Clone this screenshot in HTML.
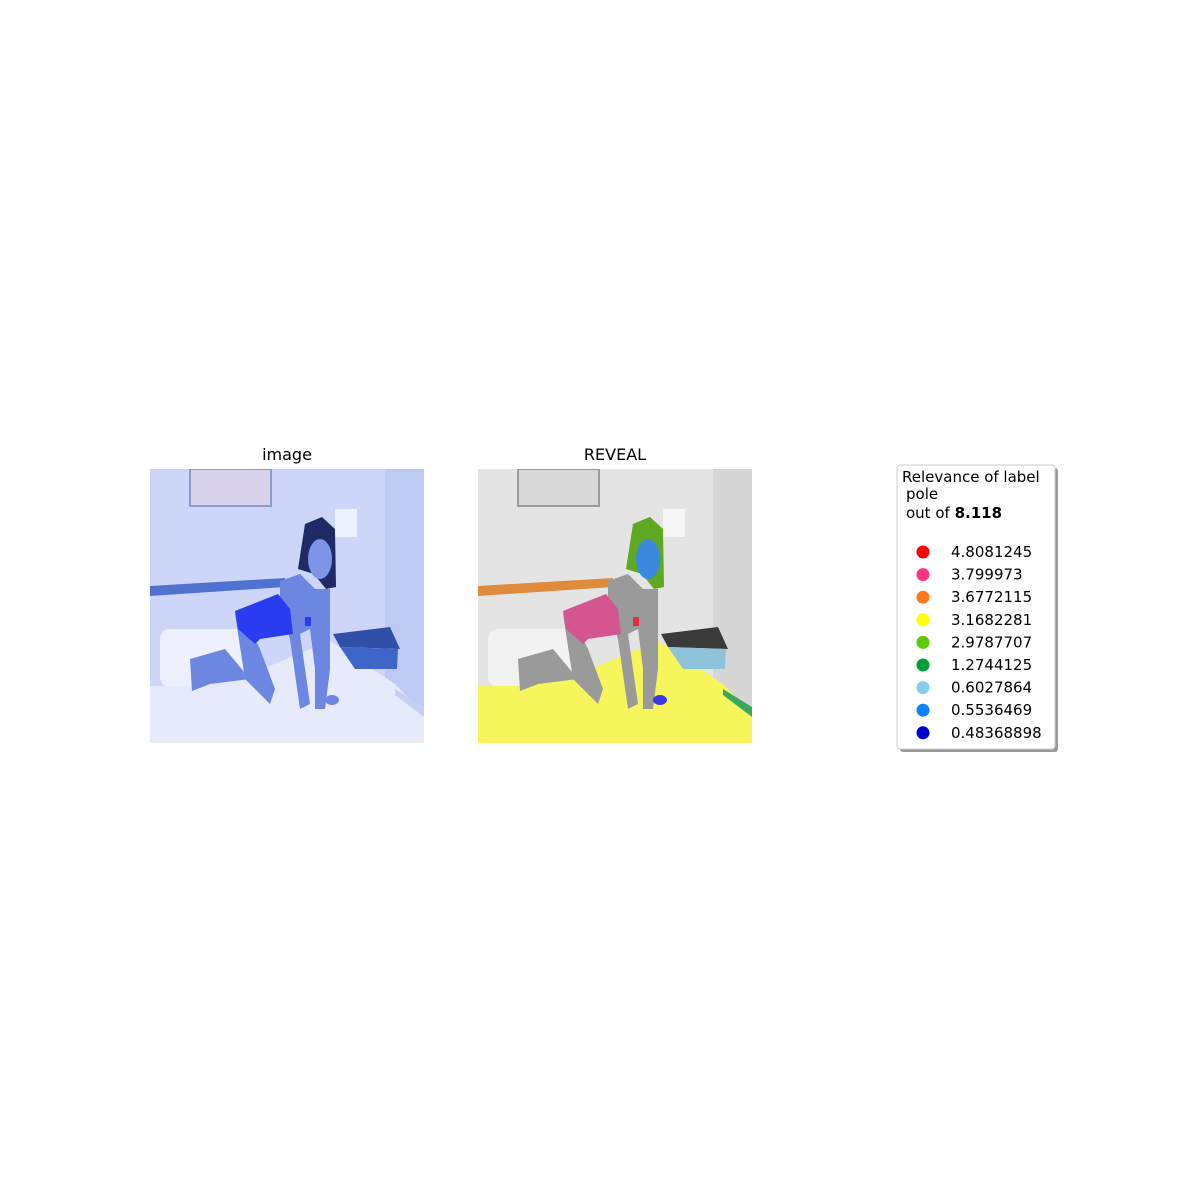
<!DOCTYPE html>
<html><head><meta charset="utf-8"><style>
body{margin:0;background:#fff;}
#root{position:relative;width:1200px;height:1200px;background:#fff;font-family:"DejaVu Sans","Liberation Sans",sans-serif;}
.title{position:absolute;font-size:16px;color:#000;transform:translateX(-50%);}
</style></head><body>
<div id="root">
<div class="title" style="left:287px;top:445px">image</div>
<div class="title" style="left:615px;top:445px">REVEAL</div>
<svg id="p1" style="position:absolute;left:150px;top:469px" width="274" height="274" viewBox="0 0 274 274"></svg>
<svg id="p2" style="position:absolute;left:478px;top:469px" width="274" height="274" viewBox="0 0 274 274"></svg>
<svg id="leg" style="position:absolute;left:890px;top:458px" width="180" height="300"></svg>
</div>
<script>
const legendValues=["4.8081245","3.799973","3.6772115","3.1682281","2.9787707","1.2744125","0.6027864","0.5536469","0.48368898"];
const legendColors=["#ff0000","#ff3385","#ff7a1a","#ffff00","#5ccc00","#00a037","#87ceeb","#0a84ff","#0000cc"];
const totalScore="8.118";
const labelName="pole";

const NS="http://www.w3.org/2000/svg";
function mk(svg,tag,attrs,name){const e=document.createElementNS(NS,tag);for(const k in attrs)e.setAttribute(k,attrs[k]);


svg.appendChild(e);return e;}
function draw(svg,c){
 mk(svg,'rect',{x:0,y:0,width:274,height:274,fill:c.wall},'wall');
 mk(svg,'rect',{x:235,y:0,width:39,height:274,fill:c.wall2},'side-wall');
 mk(svg,'rect',{x:40,y:0,width:81,height:37,fill:c.frame,stroke:c.frameB,'stroke-width':2},'picture-frame');
 mk(svg,'rect',{x:185,y:40,width:22,height:28,fill:c.lamp},'lamp');
 mk(svg,'polygon',{points:'0,117 135,109 135,118 0,127',fill:c.bar},'headboard-bar');
 mk(svg,'rect',{x:10,y:160,width:95,height:58,rx:10,fill:c.pillow},'pillow');
 mk(svg,'polygon',{points:'0,217 50,217 100,205 180,172 245,215 274,245 274,274 0,274',fill:c.bed},'bed');
 mk(svg,'polygon',{points:'183,165 240,158 250,180 190,178',fill:c.standTop},'nightstand-top');
 mk(svg,'polygon',{points:'190,178 248,180 247,200 205,200',fill:c.standFront},'nightstand-front');
 mk(svg,'polygon',{points:'245,220 274,238 274,248 245,226',fill:c.stripe},'bed-edge');
 mk(svg,'polygon',{points:'85,145 95,210 120,235 125,220 110,180 105,170',fill:c.skin},'legs');
 mk(svg,'polygon',{points:'40,190 75,180 100,210 60,215 42,222',fill:c.skin},'shin');
 mk(svg,'polygon',{points:'130,112 150,105 165,120 180,120 180,200 175,240 165,240 165,200 160,160 150,165 160,235 150,240 140,170 130,140',fill:c.skin},'arms');
 mk(svg,'polygon',{points:'148,100 155,55 172,48 185,60 186,118 176,120 164,105',fill:c.hair},'hair');
 mk(svg,'ellipse',{cx:170,cy:90,rx:12,ry:20,fill:c.face},'face');
 mk(svg,'polygon',{points:'85,142 128,125 140,140 143,165 110,170 105,175 88,160',fill:c.suit},'torso');
 mk(svg,'rect',{x:155,y:148,width:6,height:9,fill:c.red},'red-patch');
 mk(svg,'ellipse',{cx:182,cy:231,rx:7,ry:5,fill:c.hand},'hand');
}
draw(document.getElementById('p1'),{wall:'#cdd6f8',wall2:'#bccaf4',frame:'#d8d2ea',frameB:'#8e9ac8',lamp:'#eef2ff',bar:'#4f72d0',pillow:'#eef1fd',bed:'#e6eafb',standTop:'#2f4fa8',standFront:'#3d66c8',stripe:'#c4cff4',skin:'#6d86e2',hair:'#1f2a66',face:'#7d94e8',suit:'#2a3cf0',red:'#2a3cf0',hand:'#6d86e2'});
draw(document.getElementById('p2'),{wall:'#e4e4e4',wall2:'#d6d6d6',frame:'#d8d8d8',frameB:'#9a9a9a',lamp:'#f6f6f6',bar:'#e08a3c',pillow:'#f2f2f2',bed:'#f6f65c',standTop:'#3a3a3a',standFront:'#8ec3da',stripe:'#3aa85a',skin:'#9a9a9a',hair:'#5ea822',face:'#3a88e0',suit:'#d4558f',red:'#e03030',hand:'#3a3ae0'});

const leg=document.getElementById('leg');
mk(leg,'rect',{x:10,y:10,width:158,height:284,rx:3,fill:'#999'},'legend-shadow');
mk(leg,'rect',{x:7,y:7,width:158,height:284,rx:3,fill:'#fff',stroke:'#ccc','stroke-width':1},'legend-box');
function txt(x,y,s,name,bold){const t=mk(leg,'text',{x:x,y:y,'font-size':15,'font-family':'DejaVu Sans, Liberation Sans, sans-serif',fill:'#000'},name);if(bold)t.setAttribute('font-weight','bold');t.textContent=s;return t;}
txt(12,24,'Relevance of label','legend-title');
txt(16,41,labelName,'legend-label');
const t3=txt(16,60,'out of ','legend-total');
const b=document.createElementNS(NS,'tspan');b.setAttribute('font-weight','bold');b.textContent=totalScore;t3.appendChild(b);
legendValues.forEach((v,i)=>{
 const y=94+i*22.6;
 mk(leg,'circle',{cx:33,cy:y,r:6.5,fill:legendColors[i]},'legend-marker');
 txt(61,y+5,v,'legend-entry');
});
</script>
</body></html>
